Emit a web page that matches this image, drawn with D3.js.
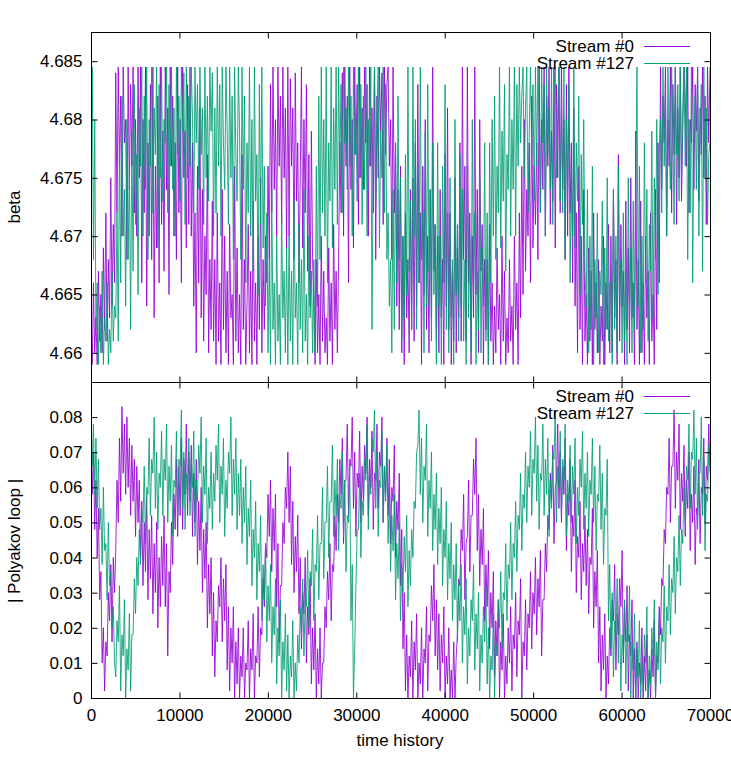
<!DOCTYPE html>
<html><head><meta charset="utf-8">
<script src="https://cdn.jsdelivr.net/npm/d3@7/dist/d3.min.js"></script>
<style>body{margin:0;background:#fff}svg{display:block}text{font-family:"Liberation Sans",Arial,sans-serif;}</style>
</head><body><svg id="c" width="731" height="766"></svg>
<script>
// ---------- data ----------
const seriesNames = ["Stream #0", "Stream #127"];
const seriesColors = ["#9400d3", "#009e73"];
const timeStep = 140; // samples are evenly spaced in "time history"
const xTickValues = [0, 10000, 20000, 30000, 40000, 50000, 60000, 70000];
const betaTickValues = [4.66, 4.665, 4.67, 4.675, 4.68, 4.685];
const polyTickValues = [0, 0.01, 0.02, 0.03, 0.04, 0.05, 0.06, 0.07, 0.08];

const betaStream0 = [
4.664,4.659,4.666,4.660,4.663,4.659,4.667,4.661,4.665,4.660,4.669,4.662,4.672,4.661,4.668,4.663,4.675,4.664,4.671,4.666,
4.684,4.672,4.6845,4.676,4.682,4.670,4.6845,4.678,4.680,4.668,4.6845,4.674,4.683,4.676,4.6845,4.672,4.680,4.670,4.6845,4.675,
4.6845,4.666,4.680,4.672,4.6845,4.664,4.678,4.670,4.683,4.668,4.6845,4.663,4.676,4.669,4.682,4.666,4.6845,4.671,4.679,4.667,
4.6845,4.674,4.681,4.665,4.6845,4.676,4.682,4.670,4.678,4.668,4.6845,4.672,4.680,4.666,4.6845,4.675,4.679,4.669,4.683,4.671,
4.6845,4.670,4.678,4.664,4.672,4.660,4.676,4.666,4.681,4.663,4.674,4.661,4.670,4.665,4.677,4.660,4.668,4.662,4.673,4.661,
4.668,4.659,4.672,4.661,4.666,4.659,4.674,4.662,4.670,4.660,4.667,4.659,4.671,4.663,4.665,4.659,4.676,4.661,4.669,4.660,
4.665,4.659,4.677,4.662,4.668,4.659,4.664,4.671,4.660,4.667,4.659,4.673,4.661,4.666,4.659,4.670,4.662,4.675,4.660,4.668,
4.662,4.670,4.666,4.676,4.668,4.683,4.672,4.6845,4.674,4.680,4.670,4.6845,4.676,4.682,4.671,4.6845,4.675,4.681,4.669,4.6845,
4.670,4.6835,4.676,4.681,4.668,4.684,4.673,4.678,4.666,4.675,4.6845,4.669,4.680,4.672,4.683,4.667,4.677,4.664,4.679,4.668,
4.664,4.659,4.668,4.660,4.665,4.659,4.670,4.661,4.667,4.660,4.663,4.659,4.669,4.661,4.666,4.659,4.671,4.662,4.667,4.660,
4.668,4.678,4.672,4.684,4.670,4.6845,4.676,4.682,4.666,4.6845,4.674,4.680,4.669,4.6845,4.677,4.683,4.671,4.6845,4.675,4.681,
4.674,4.6845,4.678,4.683,4.670,4.6845,4.676,4.681,4.672,4.6845,4.668,4.682,4.675,4.6845,4.679,4.684,4.671,4.6845,4.677,4.683,
4.6845,4.676,4.680,4.668,4.6845,4.672,4.678,4.664,4.674,4.662,4.676,4.660,4.670,4.659,4.672,4.663,4.668,4.660,4.674,4.662,
4.675,4.661,4.678,4.664,4.683,4.666,4.672,4.659,4.676,4.665,4.680,4.662,4.670,4.660,4.674,4.663,4.6845,4.667,4.671,4.661,
4.670,4.660,4.674,4.663,4.668,4.659,4.677,4.664,4.681,4.662,4.672,4.659,4.667,4.661,4.675,4.660,4.669,4.663,4.678,4.661,
4.6845,4.668,4.676,4.661,4.6845,4.666,4.672,4.659,4.670,4.663,4.6845,4.665,4.674,4.660,4.680,4.667,4.671,4.659,4.668,4.662,
4.668,4.659,4.671,4.661,4.666,4.659,4.664,4.660,4.669,4.662,4.665,4.659,4.670,4.661,4.667,4.659,4.663,4.660,4.668,4.661,
4.664,4.659,4.670,4.662,4.666,4.659,4.672,4.663,4.676,4.665,4.680,4.667,4.674,4.670,4.678,4.666,4.682,4.669,4.676,4.671,
4.678,4.668,4.6845,4.672,4.680,4.674,4.6845,4.670,4.682,4.676,4.6845,4.671,4.679,4.673,4.6845,4.669,4.683,4.675,4.6845,4.672,
4.6845,4.674,4.680,4.668,4.683,4.670,4.6845,4.672,4.678,4.666,4.681,4.664,4.672,4.660,4.676,4.662,4.670,4.659,4.674,4.661,
4.665,4.659,4.669,4.661,4.667,4.659,4.672,4.662,4.666,4.660,4.668,4.659,4.664,4.661,4.670,4.659,4.666,4.662,4.671,4.660,
4.670,4.660,4.674,4.663,4.668,4.659,4.677,4.661,4.671,4.664,4.667,4.659,4.673,4.662,4.669,4.660,4.675,4.663,4.666,4.659,
4.679,4.662,4.668,4.659,4.673,4.660,4.666,4.659,4.670,4.663,4.667,4.659,4.672,4.661,4.665,4.659,4.674,4.662,4.678,4.666,
4.6845,4.674,4.682,4.678,4.6845,4.670,4.680,4.676,4.6845,4.672,4.683,4.677,4.6845,4.671,4.681,4.675,4.6845,4.673,4.679,4.6845,
4.682,4.676,4.6845,4.672,4.680,4.678,4.6845,4.674,4.683,4.679,4.6845,4.673,4.681,4.677,4.6845,4.675,4.682,4.671,4.6845,4.678,
4.6845];

const betaStream127 = [
4.676,4.6845,4.668,4.680,4.662,4.666,4.659,4.664,4.660,4.667,4.659,4.663,4.661,4.666,4.659,4.662,4.660,4.667,4.661,4.664,
4.663,4.672,4.661,4.678,4.666,4.682,4.670,4.674,4.664,4.680,4.668,4.676,4.662,4.679,4.667,4.683,4.671,4.677,4.665,4.681,
4.676,4.6845,4.670,4.682,4.674,4.6845,4.668,4.680,4.676,4.6845,4.672,4.681,4.677,4.6845,4.669,4.683,4.675,4.6845,4.673,4.680,
4.678,4.6845,4.672,4.683,4.676,4.6845,4.674,4.681,4.670,4.6845,4.677,4.682,4.673,4.6845,4.679,4.684,4.671,4.6845,4.675,4.682,
4.676,4.6845,4.680,4.672,4.6845,4.678,4.683,4.674,4.6845,4.677,4.681,4.671,4.6845,4.675,4.682,4.673,4.6845,4.679,4.684,4.670,
4.681,4.672,4.6845,4.676,4.683,4.670,4.6845,4.678,4.674,4.6845,4.679,4.671,4.6845,4.675,4.682,4.668,4.6845,4.677,4.673,4.6845,
4.679,4.668,4.6845,4.674,4.682,4.666,4.678,4.672,4.6845,4.670,4.680,4.667,4.6845,4.673,4.677,4.665,4.683,4.671,4.6845,4.669,
4.676,4.664,4.672,4.660,4.668,4.659,4.674,4.662,4.666,4.659,4.670,4.661,4.665,4.659,4.672,4.663,4.667,4.660,4.669,4.659,
4.670,4.661,4.667,4.659,4.673,4.663,4.666,4.659,4.671,4.662,4.668,4.660,4.674,4.661,4.665,4.659,4.670,4.663,4.667,4.660,
4.668,4.660,4.676,4.664,4.682,4.668,4.6845,4.672,4.680,4.670,4.6845,4.666,4.678,4.673,4.6845,4.669,4.681,4.674,4.6845,4.671,
4.6845,4.676,4.683,4.672,4.6845,4.678,4.681,4.674,4.6845,4.676,4.682,4.670,4.6845,4.677,4.680,4.673,4.6845,4.675,4.683,4.671,
4.682,4.674,4.6845,4.670,4.680,4.676,4.6845,4.662,4.678,4.6845,4.673,4.681,4.6845,4.669,4.679,4.675,4.6845,4.672,4.683,4.668,
4.672,4.664,4.668,4.660,4.674,4.662,4.678,4.666,4.682,4.668,4.675,4.661,4.670,4.663,4.677,4.665,4.6845,4.667,4.673,4.662,
4.6845,4.670,4.680,4.662,4.676,4.666,4.6845,4.668,4.672,4.660,4.679,4.664,4.683,4.667,4.674,4.661,4.678,4.665,4.671,4.659,
4.678,4.664,4.670,4.659,4.676,4.666,4.683,4.662,4.672,4.660,4.675,4.663,4.668,4.659,4.680,4.665,4.671,4.661,4.677,4.664,
4.674,4.661,4.668,4.659,4.676,4.663,4.670,4.660,4.680,4.665,4.672,4.659,4.667,4.662,4.675,4.660,4.669,4.664,4.678,4.661,
4.672,4.659,4.678,4.666,4.680,4.670,4.682,4.668,4.676,4.672,4.6845,4.669,4.679,4.673,4.683,4.667,4.677,4.674,4.6845,4.670,
4.680,4.674,4.6845,4.670,4.683,4.676,4.6845,4.678,4.682,4.6845,4.675,4.681,4.6845,4.672,4.679,4.6845,4.677,4.683,4.673,4.6845,
4.676,4.6845,4.680,4.672,4.6845,4.678,4.683,4.670,4.6845,4.677,4.681,4.674,4.6845,4.671,4.682,4.6845,4.675,4.680,4.6845,4.673,
4.681,4.672,4.6845,4.668,4.680,4.674,4.683,4.666,4.676,4.670,4.6845,4.669,4.678,4.673,4.682,4.665,4.677,4.671,4.680,4.667,
4.664,4.674,4.660,4.670,4.662,4.676,4.659,4.668,4.663,4.672,4.660,4.667,4.665,4.673,4.659,4.669,4.662,4.675,4.661,4.666,
4.666,4.659,4.674,4.662,4.670,4.660,4.676,4.664,4.668,4.660,4.672,4.661,4.667,4.659,4.675,4.663,4.669,4.660,4.673,4.662,
4.672,4.6845,4.664,4.676,4.660,4.670,4.662,4.678,4.666,4.674,4.661,4.671,4.667,4.679,4.663,4.675,4.668,4.680,4.665,4.677,
4.680,4.672,4.6845,4.676,4.682,4.670,4.6845,4.678,4.674,4.6845,4.679,4.671,4.6845,4.677,4.683,4.673,4.6845,4.675,4.681,4.6845,
4.676,4.6845,4.668,4.680,4.672,4.6845,4.666,4.678,4.682,4.674,4.6845,4.670,4.679,4.683,4.667,4.6845,4.675,4.681,4.671,4.677,
4.678];

const polyStream0 = [
.074,.058,.070,.048,.062,.040,.054,.028,.036,.010,.020,.002,.016,.012,.030,.022,.038,.016,.040,.030,
.042,.062,.050,.074,.056,.083,.064,.078,.058,.080,.060,.074,.052,.072,.056,.068,.046,.066,.050,.062,
.040,.056,.032,.050,.036,.058,.028,.048,.034,.052,.024,.044,.030,.050,.020,.040,.026,.046,.032,.052,
.026,.044,.012,.036,.030,.050,.038,.058,.048,.068,.046,.066,.052,.074,.048,.068,.058,.078,.052,.070,
.056,.072,.046,.064,.050,.068,.038,.056,.042,.060,.030,.048,.034,.050,.020,.038,.024,.040,.012,.030,
.006,.022,.016,.032,.026,.040,.016,.034,.022,.038,.008,.026,.002,.020,.010,.026,.000,.016,.004,.020,
.000,.012,.006,.020,.000,.010,.008,.022,.000,.014,.008,.024,.000,.012,.010,.026,.006,.020,.018,.034,
.026,.044,.040,.058,.046,.062,.036,.054,.042,.058,.026,.044,.016,.032,.032,.050,.044,.060,.054,.070,
.050,.066,.038,.056,.030,.046,.036,.052,.024,.040,.014,.030,.024,.040,.010,.026,.018,.034,.004,.020,
.008,.024,.000,.014,.004,.020,.000,.010,.010,.026,.020,.036,.028,.044,.022,.038,.036,.052,.042,.058,
.050,.068,.058,.074,.044,.062,.062,.078,.052,.068,.066,.080,.054,.070,.046,.064,.060,.076,.050,.066,
.056,.072,.064,.080,.052,.068,.060,.076,.048,.064,.062,.078,.054,.070,.066,.080,.050,.066,.058,.074,
.052,.068,.044,.060,.056,.072,.040,.056,.048,.064,.032,.048,.014,.030,.002,.018,.000,.012,.006,.022,
.000,.016,.008,.024,.000,.010,.004,.020,.000,.014,.010,.026,.002,.018,.016,.032,.022,.038,.012,.028,
.008,.024,.002,.018,.010,.026,.000,.012,.004,.020,.000,.008,.000,.016,.000,.012,.018,.034,.032,.048,
.042,.058,.028,.044,.046,.062,.036,.052,.052,.068,.058,.074,.042,.058,.032,.048,.038,.054,.022,.038,
.026,.042,.014,.030,.020,.036,.006,.022,.012,.028,.000,.016,.008,.024,.000,.012,.004,.020,.010,.026,
.002,.018,.014,.030,.006,.022,.018,.034,.000,.016,.012,.028,.008,.024,.020,.036,.014,.030,.024,.040,
.018,.034,.026,.042,.012,.028,.028,.044,.036,.052,.048,.064,.056,.072,.044,.060,.062,.078,.054,.070,
.050,.066,.058,.074,.042,.058,.052,.068,.036,.052,.046,.062,.030,.046,.040,.056,.028,.044,.036,.052,
.032,.048,.024,.040,.038,.054,.020,.036,.026,.042,.010,.026,.002,.018,.008,.024,.000,.012,.004,.020,
.012,.028,.022,.038,.008,.024,.018,.034,.026,.042,.010,.026,.016,.032,.002,.018,.012,.028,.000,.014,
.000,.016,.000,.010,.004,.020,.000,.012,.002,.018,.000,.008,.000,.014,.006,.022,.000,.012,.010,.026,
.018,.034,.032,.048,.044,.060,.058,.074,.050,.066,.066,.082,.054,.070,.062,.078,.048,.064,.056,.072,
.046,.062,.054,.070,.042,.058,.050,.066,.038,.054,.052,.068,.044,.060,.058,.074,.050,.066,.062,.078,
.064];

const polyStream127 = [
.082,.066,.078,.058,.074,.054,.068,.048,.054,.038,.060,.042,.044,.028,.050,.032,.036,.020,.026,.010,
.006,.022,.016,.032,.002,.018,.012,.028,.000,.014,.008,.024,.002,.018,.018,.034,.024,.040,.032,.048,
.038,.054,.050,.066,.044,.060,.058,.074,.052,.068,.064,.080,.054,.070,.048,.064,.060,.076,.052,.068,
.062,.078,.050,.066,.056,.072,.046,.062,.060,.076,.052,.068,.066,.082,.054,.070,.048,.064,.058,.074,
.052,.068,.060,.076,.046,.062,.056,.072,.064,.080,.050,.066,.058,.074,.044,.060,.054,.070,.048,.064,
.056,.072,.062,.078,.050,.066,.058,.074,.046,.062,.054,.070,.064,.080,.052,.068,.058,.074,.048,.064,
.052,.068,.044,.060,.050,.066,.038,.054,.046,.062,.032,.048,.040,.056,.028,.044,.036,.052,.022,.038,
.028,.044,.016,.032,.022,.038,.010,.026,.018,.034,.004,.020,.012,.028,.000,.016,.008,.024,.002,.018,
.000,.012,.006,.022,.000,.010,.002,.018,.010,.026,.018,.034,.012,.028,.026,.042,.020,.036,.032,.048,
.022,.038,.036,.052,.028,.044,.044,.060,.034,.050,.050,.066,.040,.056,.056,.072,.046,.062,.052,.068,
.042,.058,.054,.070,.046,.062,.036,.052,.050,.066,.022,.038,.000,.014,.032,.048,.048,.064,.040,.056,
.052,.068,.062,.078,.048,.064,.058,.074,.070,.082,.054,.070,.046,.062,.060,.076,.050,.066,.056,.072,
.044,.060,.036,.052,.042,.058,.028,.044,.034,.050,.022,.038,.030,.046,.036,.052,.026,.042,.032,.048,
.040,.056,.054,.070,.072,.082,.058,.074,.050,.066,.062,.078,.046,.062,.054,.070,.042,.058,.048,.064,
.038,.054,.044,.060,.032,.048,.040,.056,.028,.044,.034,.050,.022,.038,.028,.044,.016,.032,.022,.038,
.010,.026,.018,.034,.004,.020,.012,.028,.022,.038,.008,.024,.014,.030,.002,.018,.010,.026,.016,.032,
.004,.020,.000,.012,.008,.024,.000,.016,.012,.028,.020,.036,.014,.030,.028,.044,.022,.038,.034,.050,
.028,.044,.040,.056,.036,.052,.048,.064,.042,.058,.054,.070,.050,.066,.060,.076,.052,.068,.064,.080,
.056,.072,.048,.064,.062,.078,.052,.068,.058,.074,.046,.062,.054,.070,.068,.082,.050,.066,.060,.076,
.052,.068,.062,.078,.046,.062,.056,.072,.050,.066,.058,.074,.044,.060,.052,.068,.060,.076,.048,.064,
.054,.070,.046,.062,.058,.074,.050,.066,.042,.058,.056,.072,.048,.064,.038,.054,.052,.068,.022,.038,
.014,.030,.006,.022,.018,.034,.010,.026,.002,.018,.012,.028,.004,.020,.016,.032,.000,.016,.008,.024,
.000,.014,.006,.022,.000,.010,.002,.018,.010,.026,.000,.012,.004,.020,.012,.028,.000,.016,.008,.024,
.004,.020,.016,.032,.010,.026,.022,.038,.018,.034,.030,.046,.024,.040,.036,.052,.032,.048,.044,.060,
.050,.066,.062,.078,.054,.070,.068,.082,.058,.074,.048,.064,.064,.080,.052,.068,.042,.058,.056,.072,
.066];

// ---------- layout ----------
const L = 91, R = 710;
const topPanel = {top: 32, bottom: 382, domain: [4.6575, 4.6875], ticks: betaTickValues, label: "beta", labelY: 207,
  series: [betaStream0, betaStream127], legendY: [46, 63]};
const botPanel = {top: 382, bottom: 698, domain: [0, 0.09], ticks: polyTickValues, label: "| Polyakov loop |", labelY: 541,
  series: [polyStream0, polyStream127], legendY: [396, 413]};

const svg = d3.select("#c");
const x = d3.scaleLinear().domain([0, 70000]).range([L, R]);
const fmt = d => String(parseFloat(d.toFixed(3)));
const TK = 6;

[topPanel, botPanel].forEach((p, pi) => {
  const y = d3.scaleLinear().domain(p.domain).range([p.bottom, p.top]);
  const clipId = "clip" + pi;
  svg.append("clipPath").attr("id", clipId).append("rect")
    .attr("x", L).attr("y", p.top).attr("width", R - L).attr("height", p.bottom - p.top);

  const line = d3.line().x((d, i) => x(i * timeStep)).y(d => y(d));
  p.series.forEach((s, si) => {
    svg.append("path").datum(s).attr("d", line)
      .attr("clip-path", `url(#${clipId})`)
      .attr("fill", "none").attr("stroke", seriesColors[si])
      .attr("stroke-width", 1).attr("stroke-opacity", 0.85)
      .attr("stroke-linejoin", "bevel");
  });

  const gl = svg.append("g").attr("transform", `translate(${L + 0.5},0)`)
    .call(d3.axisLeft(y).tickValues(p.ticks).tickSize(-TK).tickPadding(9).tickFormat(fmt));
  const gr = svg.append("g").attr("transform", `translate(${R + 0.5},0)`)
    .call(d3.axisRight(y).tickValues(p.ticks).tickSize(-TK).tickFormat(""));
  const gb = svg.append("g").attr("transform", `translate(0,${p.bottom + 0.5})`)
    .call(d3.axisBottom(x).tickValues(xTickValues).tickSize(-TK).tickPadding(10).tickFormat(pi === 1 ? d3.format("d") : ""));
  const gt = svg.append("g").attr("transform", `translate(0,${p.top + 0.5})`)
    .call(d3.axisTop(x).tickValues(xTickValues).tickSize(-TK).tickFormat(""));
  [gl, gr, gb, gt].forEach(g => {
    g.select(".domain").remove();
    g.selectAll("line").attr("stroke", "#000");
    g.selectAll("text").attr("font-size", 17).attr("fill", "#000")
      .style("font-family", '"Liberation Sans", Arial, sans-serif');
  });

  svg.append("rect").attr("x", L + 0.5).attr("y", p.top + 0.5)
    .attr("width", R - L).attr("height", p.bottom - p.top)
    .attr("fill", "none").attr("stroke", "#000").attr("stroke-width", 1);

  svg.append("text").attr("transform", `translate(${20},${p.labelY}) rotate(-90)`)
    .attr("text-anchor", "middle").attr("font-size", 17).text(p.label);

  seriesNames.forEach((n, si) => {
    const ly = p.legendY[si];
    svg.append("text").attr("x", 634).attr("y", ly + 6).attr("text-anchor", "end")
      .attr("font-size", 17).text(n);
    svg.append("line").attr("x1", 644).attr("x2", 690).attr("y1", ly + 0.5).attr("y2", ly + 0.5)
      .attr("stroke", seriesColors[si]).attr("stroke-width", 1);
  });
});

svg.append("text").attr("x", 400).attr("y", 746).attr("text-anchor", "middle")
  .attr("font-size", 17).text("time history");
</script>
</body></html>
